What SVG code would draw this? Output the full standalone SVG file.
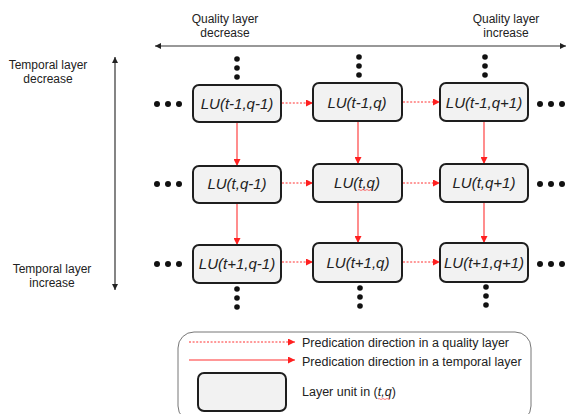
<svg xmlns="http://www.w3.org/2000/svg" width="568" height="414" viewBox="0 0 568 414">
  <defs>
    <marker id="ah-red" viewBox="0 0 8 8" refX="8" refY="4" markerWidth="7" markerHeight="7" markerUnits="userSpaceOnUse" orient="auto">
      <path d="M0,0 L8,4 L0,8 z" fill="#ff2020"/>
    </marker>
    <marker id="ah-black" viewBox="0 0 8 8" refX="8" refY="4" markerWidth="6" markerHeight="6" markerUnits="userSpaceOnUse" orient="auto-start-reverse">
      <path d="M0,0 L8,4 L0,8 z" fill="#222"/>
    </marker>
  </defs>
  <style>
    .lu rect { fill: #f2f2f2; stroke: #1e1e1e; stroke-width: 2; }
    .lu text { font-family: "Liberation Sans", Arial, sans-serif; font-style: italic; font-size: 15px; fill: #222; text-anchor: middle; }
    .lbl { font-family: "Liberation Sans", Arial, sans-serif; font-size: 12px; fill: #222; text-anchor: middle; }
    .leg { font-family: "Liberation Sans", Arial, sans-serif; font-size: 12.5px; fill: #222; }
    .axis { stroke: #333; stroke-width: 1.2; fill: none; marker-start: url(#ah-black); marker-end: url(#ah-black); }
    .q { stroke: #ff3030; stroke-width: 1; stroke-dasharray: 2 1.6; fill: none; marker-end: url(#ah-red); }
    .t { stroke: #ff3030; stroke-width: 1.1; fill: none; marker-end: url(#ah-red); }
    .dot { fill: #111; }
    .squiggle { stroke: #ff4040; stroke-width: 0.7; fill: none; }
  </style>

  <!-- axis labels -->
  <text class="lbl" x="225" y="23">Quality layer</text>
  <text class="lbl" x="225" y="37">decrease</text>
  <text class="lbl" x="506" y="23">Quality layer</text>
  <text class="lbl" x="506" y="37">increase</text>
  <text class="lbl" x="48" y="69">Temporal layer</text>
  <text class="lbl" x="48" y="83">decrease</text>
  <text class="lbl" x="52" y="273">Temporal layer</text>
  <text class="lbl" x="52" y="287">increase</text>

  <!-- axes -->
  <line class="axis" x1="155" y1="46" x2="566" y2="46"/>
  <line class="axis" x1="115" y1="57" x2="115" y2="290"/>

  <!-- continuation dots -->
  <g id="dots">
    <!-- above top row -->
    <circle class="dot" cx="237" cy="59" r="2.8"/><circle class="dot" cx="237" cy="68" r="2.8"/><circle class="dot" cx="237" cy="77" r="2.8"/>
    <circle class="dot" cx="359" cy="57" r="2.8"/><circle class="dot" cx="359" cy="66" r="2.8"/><circle class="dot" cx="359" cy="75" r="2.8"/>
    <circle class="dot" cx="485" cy="57" r="2.8"/><circle class="dot" cx="485" cy="66" r="2.8"/><circle class="dot" cx="485" cy="75" r="2.8"/>
    <!-- below bottom row -->
    <circle class="dot" cx="237" cy="289" r="2.8"/><circle class="dot" cx="237" cy="298" r="2.8"/><circle class="dot" cx="237" cy="307" r="2.8"/>
    <circle class="dot" cx="360" cy="288" r="2.8"/><circle class="dot" cx="360" cy="297" r="2.8"/><circle class="dot" cx="360" cy="306" r="2.8"/>
    <circle class="dot" cx="486" cy="287" r="2.8"/><circle class="dot" cx="486" cy="296" r="2.8"/><circle class="dot" cx="486" cy="305" r="2.8"/>
    <!-- left of first column -->
    <circle class="dot" cx="157" cy="104" r="3"/><circle class="dot" cx="168" cy="104" r="3"/><circle class="dot" cx="179" cy="104" r="3"/>
    <circle class="dot" cx="157" cy="184" r="3"/><circle class="dot" cx="168" cy="184" r="3"/><circle class="dot" cx="179" cy="184" r="3"/>
    <circle class="dot" cx="157" cy="264" r="3"/><circle class="dot" cx="168" cy="264" r="3"/><circle class="dot" cx="179" cy="264" r="3"/>
    <!-- right of last column -->
    <circle class="dot" cx="540" cy="104" r="3"/><circle class="dot" cx="551" cy="104" r="3"/><circle class="dot" cx="562" cy="104" r="3"/>
    <circle class="dot" cx="540" cy="184" r="3"/><circle class="dot" cx="551" cy="184" r="3"/><circle class="dot" cx="562" cy="184" r="3"/>
    <circle class="dot" cx="540" cy="264" r="3"/><circle class="dot" cx="551" cy="264" r="3"/><circle class="dot" cx="562" cy="264" r="3"/>
  </g>

  <!-- connectors -->
  <g id="connectors">
    <!-- quality-layer prediction (dotted) -->
    <line class="q" x1="282" y1="103" x2="313" y2="103"/>
    <line class="q" x1="403" y1="102" x2="440" y2="102"/>
    <line class="q" x1="282" y1="183" x2="313" y2="183"/>
    <line class="q" x1="403" y1="183" x2="440" y2="183"/>
    <line class="q" x1="282" y1="262" x2="313" y2="262"/>
    <line class="q" x1="403" y1="262" x2="440" y2="262"/>
    <!-- temporal-layer prediction (solid) -->
    <line class="t" x1="237" y1="123" x2="237" y2="166"/>
    <line class="t" x1="358" y1="121" x2="358" y2="164"/>
    <line class="t" x1="484" y1="121" x2="484" y2="164"/>
    <line class="t" x1="237" y1="204" x2="237" y2="245"/>
    <line class="t" x1="358" y1="202" x2="358" y2="243"/>
    <line class="t" x1="484" y1="202" x2="484" y2="243"/>
  </g>

  <!-- layer units -->
  <g id="lu-t-1-q-1" class="lu"><rect x="193" y="85" width="88" height="37" rx="6"/><text x="237" y="109">LU(t-1,q-1)</text></g>
  <g id="lu-t-1-q" class="lu"><rect x="313" y="83" width="89" height="38" rx="6"/><text x="357" y="108">LU(t-1,q)</text></g>
  <g id="lu-t-1-q+1" class="lu"><rect x="440" y="83" width="88" height="38" rx="6"/><text x="484" y="108">LU(t-1,q+1)</text></g>

  <g id="lu-t-q-1" class="lu"><rect x="193" y="166" width="88" height="37" rx="6"/><text x="237" y="189">LU(t,q-1)</text></g>
  <g id="lu-t-q" class="lu"><rect x="313" y="164" width="89" height="38" rx="6"/><text x="357" y="188">LU(t,q)</text>
    <path class="squiggle" d="M358,190 q1,-1 2,0 t2,0 t2,0 t2,0 t2,0 t2,0 t2,0"/></g>
  <g id="lu-t-q+1" class="lu"><rect x="440" y="164" width="88" height="38" rx="6"/><text x="484" y="188">LU(t,q+1)</text></g>

  <g id="lu-t+1-q-1" class="lu"><rect x="193" y="245" width="88" height="38" rx="6"/><text x="237" y="269">LU(t+1,q-1)</text></g>
  <g id="lu-t+1-q" class="lu"><rect x="313" y="243" width="89" height="39" rx="6"/><text x="358" y="268">LU(t+1,q)</text></g>
  <g id="lu-t+1-q+1" class="lu"><rect x="440" y="243" width="88" height="39" rx="6"/><text x="484" y="268">LU(t+1,q+1)</text></g>

  <!-- legend -->
  <g id="legend">
    <rect x="178" y="332" width="353" height="90" rx="16" fill="#fff" stroke="#777" stroke-width="1"/>
    <line class="q" x1="189" y1="342" x2="295" y2="342"/>
    <text class="leg" x="302" y="346.5" textLength="207" lengthAdjust="spacingAndGlyphs">Predication direction in a quality layer</text>
    <line class="t" x1="189" y1="360" x2="295" y2="360"/>
    <text class="leg" x="302" y="366">Predication direction in a temporal layer</text>
    <g class="lu"><rect x="198" y="373" width="88" height="38" rx="6"/></g>
    <text class="leg" x="302" y="396">Layer unit in (<tspan font-style="italic">t,q</tspan>)</text>
    <path class="squiggle" d="M378,399 q1,-1 2,0 t2,0 t2,0 t2,0 t2,0 t2,0"/>
  </g>
</svg>
